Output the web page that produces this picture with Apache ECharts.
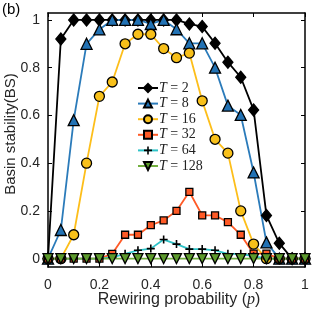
<!DOCTYPE html>
<html><head><meta charset="utf-8">
<script src="https://cdn.jsdelivr.net/npm/echarts@6/dist/echarts.min.js"></script>
<style>html,body{margin:0;padding:0;background:#fff}#c{width:312px;height:315px}</style>
</head><body><div id="c"></div>
<script>
const p = [0,0.05,0.1,0.15,0.2,0.25,0.3,0.35,0.4,0.45,0.5,0.55,0.6,0.65,0.7,0.75,0.8,0.85,0.9,0.95,1];
const T2   = [0,0.92,1,1,1,1,1,1,1,1,1,0.983,0.972,0.902,0.823,0.76,0.623,0.181,0.064,0,0];
const T8   = [0,0.12,0.58,0.90,0.96,1,1,1,0.983,1,0.961,0.902,0.902,0.80,0.641,0.602,0.361,0.068,0,0,0];
const T16  = [0,0,0.10,0.40,0.68,0.74,0.90,0.94,0.94,0.88,0.842,0.861,0.661,0.50,0.442,0.20,0.061,0,0,0,0];
const T32  = [0,0,0,0,0,0.02,0.10,0.10,0.14,0.16,0.20,0.28,0.181,0.181,0.153,0.10,0.021,0.021,0,0,0];
const T64  = [0,0,0,0,0,0.005,0.02,0.035,0.042,0.08,0.061,0.04,0.04,0.035,0.02,0.02,0.01,0,0,0,0];
const T128 = [0,0,0,0,0,0,0,0,0,0,0,0,0,0,0,0,0,0,0,0,0];
const names = ['2','8','16','32','64','128'];
const xTicks = [0,0.2,0.4,0.6,0.8,1];
const yTicks = [0,0.2,0.4,0.6,0.8,1];

const pair = a => p.map((x,i)=>[x,a[i]]);
const plus = 'path://M4,0L6,0L6,4L10,4L10,6L6,6L6,10L4,10L4,6L0,6L0,4L4,4Z';
const styles = [
  {line:'#000000', fill:'#000000', symbol:'diamond', size:[10,12]},
  {line:'#2B7BBA', fill:'#2272B4', symbol:'triangle', size:11},
  {line:'#FDBE1A', fill:'#F8C01A', symbol:'circle', size:10},
  {line:'#FF5A26', fill:'#FF5A26', symbol:'rect', size:7},
  {line:'#2EC3C8', fill:'#000000', symbol:plus, size:8},
  {line:'#73B040', fill:'#5C9A2C', symbol:'triangle', size:10, rotate:180}
];
const datas = [T2,T8,T16,T32,T64,T128];
const fmt = v => String(Math.round(v*10)/10);
const tickFont = {color:'#262626', fontSize:14, fontFamily:'Liberation Sans'};
const axisCommon = {
  axisLine:{show:true, onZero:false, lineStyle:{color:'#000', width:1.5}},
  splitLine:{show:false}
};
const chart = echarts.init(document.getElementById('c'));
chart.setOption({
  animation:false,
  backgroundColor:'#fff',
  grid:{left:48, right:7, top:13, bottom:48},
  xAxis:[
    Object.assign({type:'value', min:0, max:1, position:'bottom',
      axisTick:{show:true, inside:true, length:4, customValues:xTicks, lineStyle:{color:'#000', width:1}},
      axisLabel:Object.assign({show:true, margin:11, customValues:xTicks, formatter:fmt}, tickFont)}, axisCommon),
    Object.assign({type:'value', min:0, max:1, position:'top',
      axisTick:{show:true, inside:true, length:4, customValues:xTicks, lineStyle:{color:'#000', width:1}},
      axisLabel:{show:false}}, axisCommon)
  ],
  yAxis:[
    Object.assign({type:'value', min:-0.035, max:1.029, position:'left',
      axisTick:{show:true, inside:true, length:4, customValues:yTicks, lineStyle:{color:'#000', width:1}},
      axisLabel:Object.assign({show:true, margin:8, customValues:yTicks, formatter:fmt}, tickFont)}, axisCommon),
    Object.assign({type:'value', min:-0.035, max:1.029, position:'right',
      axisTick:{show:true, inside:true, length:4, customValues:yTicks, lineStyle:{color:'#000', width:1}},
      axisLabel:{show:false}}, axisCommon)
  ],
  legend:{
    orient:'vertical', left:132, top:76, itemWidth:20, itemHeight:10, itemGap:1.6,
    data:names.map(n=>'T = '+n),
    formatter: n => '{i|T}{r| ' + n.slice(2) + '}',
    textStyle:{padding:[0,0,0,-4], rich:{
      i:{fontFamily:'Liberation Serif', fontStyle:'italic', fontSize:14, color:'#222'},
      r:{fontFamily:'Liberation Serif', fontSize:14, color:'#222'}
    }}
  },
  series: datas.map((d,k)=>({
    type:'line', name:'T = '+names[k], data:pair(d),
    xAxisIndex:0, yAxisIndex:0,
    symbol:styles[k].symbol, symbolSize:styles[k].size, symbolRotate:styles[k].rotate||0,
    showAllSymbol:true,
    lineStyle:{color:styles[k].line, width:1.8},
    itemStyle:{color:styles[k].fill, borderColor:'#000', borderWidth:k===4?0:1.3}
  })),
  graphic:[
    {type:'text', left:2, top:2, style:{text:'(b)', fontSize:15, fontFamily:'Liberation Sans', fill:'#000'}},
    {type:'text', x:11, y:134, rotation:Math.PI/2,
      style:{text:'Basin stability(BS)', fontSize:15, fontFamily:'Liberation Sans', fill:'#262626', align:'center', verticalAlign:'middle'}},
    {type:'text', x:179, y:300,
      style:{text:'{n|Rewiring probability (}{p|p}{n|)}', align:'center', verticalAlign:'middle',
        rich:{n:{fontSize:16, fontFamily:'Liberation Sans', fill:'#262626'},
              p:{fontSize:16, fontFamily:'Liberation Serif', fontStyle:'italic', fill:'#262626'}}}}
  ]
});
</script></body></html>
